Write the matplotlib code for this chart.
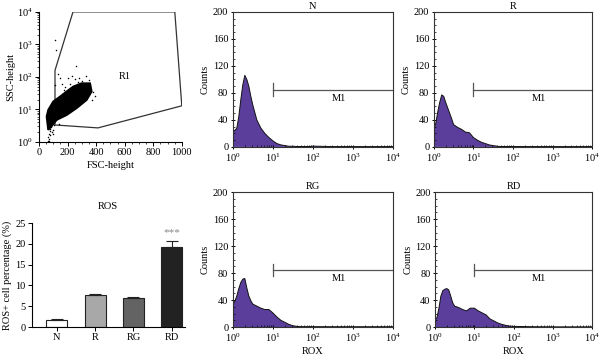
import numpy as np
import matplotlib
matplotlib.use("Agg")
import matplotlib.pyplot as plt
from matplotlib.ticker import MultipleLocator, LogLocator, NullFormatter

plt.rcParams['font.family'] = ['Liberation Serif', 'DejaVu Serif']
plt.rcParams['mathtext.fontset'] = 'stix'
plt.rcParams['font.size'] = 7.5

# ---- scatter (FSC vs SSC) ----
gate_fsc = [112, 413, 1000, 951, 238, 112]
gate_ssc = [10**0.52, 10**0.43, 10**1.11, 10**4, 10**4, 10**2.2]

cloud_fsc = [65, 124, 194, 263, 333, 368, 357, 298, 240, 194, 147, 100, 65, 54]
cloud_ssc = [10**0.37, 10**0.68, 10**0.83, 10**1.04, 10**1.29, 10**1.55, 10**1.8,
             10**1.8, 10**1.7, 10**1.55, 10**1.39, 10**1.24, 10**0.98, 10**0.78]

sparse_fsc = [62, 66, 70, 74, 68, 80, 85, 90, 72, 78, 95, 105, 110, 120, 150, 130,
              160, 260, 330, 300, 280, 350, 340, 200, 230, 250, 380, 100, 140, 175,
              320, 60, 88, 58, 115, 210, 370, 290, 310, 270, 220, 180, 360, 345,
              390, 240, 160, 125, 75, 64, 82, 92]
sparse_ssc = [1.1, 1.4, 1.7, 2.1, 1.2, 2.5, 3.0, 2.0, 1.05, 1.6, 2.4, 3.2, 1400, 650,
              90, 120, 60, 220, 110, 75, 95, 80, 60, 95, 110, 85, 35, 1.8, 3.5, 40,
              28, 3.0, 4.2, 6.0, 55, 9.0, 20, 15, 45, 70, 62, 50, 48, 30,
              25, 14, 7.5, 5.0, 12, 8.0, 2.8, 4.5]

# ---- bar chart ----
groups = ['N', 'R', 'RG', 'RD']
ros_pct = [1.6, 7.6, 6.9, 19.3]
ros_err = [0.4, 0.4, 0.4, 1.4]
bar_colors = ['white', '#a8a8a8', '#636363', '#222222']

# ---- histograms (ROX, decades from 10^0) ----
decades = [0, 0.02, 0.05, 0.1, 0.15, 0.2, 0.25, 0.3, 0.35, 0.4, 0.45, 0.5, 0.6, 0.7,
           0.8, 0.9, 1.0, 1.1, 1.2, 1.3, 1.4, 1.5, 1.6, 1.7, 1.8, 1.9, 2.0, 2.5, 3.0, 4.0]
counts_N = [72, 25, 24, 28, 45, 70, 92, 106, 100, 90, 75, 62, 40, 28, 20, 14, 9, 5, 3,
            2, 1, 1, 0.6, 0.6, 0.6, 0.6, 1.2, 0.5, 0.5, 0.5]
counts_R = [140, 30, 35, 52, 66, 77, 75, 66, 58, 50, 42, 33, 29, 26, 22, 21, 14, 10, 7,
            5, 3, 2, 1, 0.6, 0.6, 0.6, 0.6, 0.5, 0.5, 0.5]
counts_RG = [135, 35, 38, 46, 57, 66, 71, 72, 58, 46, 39, 34, 31, 28, 26, 26, 21, 15, 10,
             7, 4, 2, 1, 0.6, 0.6, 0.6, 0.6, 0.5, 0.5, 0.5]
counts_RD = [36, 12, 14, 28, 46, 54, 56, 57, 55, 46, 36, 31, 29, 26, 24, 28, 28, 24, 21,
             18, 12, 9, 6, 4, 2.5, 1.5, 1, 0.5, 0.3, 0.3]
hist_titles = ['N', 'R', 'RG', 'RD']
hist_counts = [counts_N, counts_R, counts_RG, counts_RD]

fig = plt.figure(figsize=(6.0, 3.61), dpi=100)

# scatter panel
ax = fig.add_axes([0.065, 0.607, 0.238, 0.36])
ax.fill(gate_fsc, gate_ssc, facecolor='none', edgecolor='#333333', lw=0.9)
ax.fill(cloud_fsc, cloud_ssc, facecolor='black', edgecolor='black', lw=1.5)
ax.scatter(sparse_fsc, sparse_ssc, s=1.2, c='black', lw=0)
ax.set_yscale('log')
ax.set_xlim(0, 1000)
ax.set_ylim(1, 1e4)
ax.xaxis.set_major_locator(MultipleLocator(200))
ax.xaxis.set_minor_locator(MultipleLocator(50))
ax.yaxis.set_minor_locator(LogLocator(subs=np.arange(2, 10)))
ax.yaxis.set_minor_formatter(NullFormatter())
for s in ['top', 'right']:
    ax.spines[s].set_visible(False)
ax.tick_params(which='major', length=3, width=0.7, pad=1.5)
ax.tick_params(which='minor', length=1.5, width=0.5)
ax.text(603, 100, 'R1', ha='center', va='center')
ax.set_xlabel('FSC-height', labelpad=3)
ax.set_ylabel('SSC-height', labelpad=1)

# bar panel
bx = fig.add_axes([0.053, 0.094, 0.255, 0.288])
xs = np.arange(len(groups))
bx.bar(xs, ros_pct, width=0.55, color=bar_colors, edgecolor='#222222', lw=0.8)
bx.errorbar(xs, ros_pct, yerr=[np.zeros(4), ros_err], fmt='none', ecolor='#222222',
            elinewidth=0.8, capsize=4, capthick=0.8)
bx.text(xs[3], 21.6, '***', ha='center', va='bottom', color='#888888', fontsize=8)
bx.set_xlim(-0.65, 3.34)
bx.set_ylim(0, 25)
bx.set_xticks(xs)
bx.set_xticklabels(groups)
bx.yaxis.set_major_locator(MultipleLocator(5))
for s in ['top', 'right']:
    bx.spines[s].set_visible(False)
bx.tick_params(length=3, width=0.7, pad=1.5)
bx.set_ylabel('ROS+ cell percentage (%)', labelpad=2)
bx.set_title('ROS', pad=10, fontsize=7.5)

# histogram panels
hist_rects = [[0.388, 0.593, 0.267, 0.374], [0.723, 0.593, 0.264, 0.374],
              [0.388, 0.094, 0.267, 0.374], [0.725, 0.094, 0.262, 0.374]]
for i, (rect, title, cnt) in enumerate(zip(hist_rects, hist_titles, hist_counts)):
    hx = fig.add_axes(rect)
    xv = 10 ** np.array(decades)
    hx.fill_between(xv[1:], 0, cnt[1:], facecolor='#5b3e9c', edgecolor='none')
    hx.plot(xv[1:], cnt[1:], color='#111111', lw=0.7)
    hx.vlines(xv[0] * 1.01, 0, cnt[0], color='#111111', lw=1.3)
    hx.set_xscale('log')
    hx.set_xlim(1, 1e4)
    hx.set_ylim(0, 200)
    hx.plot([10, 1e4], [85, 85], color='#555555', lw=0.9, clip_on=False)
    hx.plot([10, 10], [76, 94], color='#555555', lw=0.9)
    hx.text(10**2.65, 72, 'M1', ha='center', va='center')
    hx.yaxis.set_major_locator(MultipleLocator(40))
    hx.yaxis.set_minor_locator(MultipleLocator(10))
    hx.xaxis.set_minor_locator(LogLocator(subs=np.arange(2, 10)))
    hx.xaxis.set_minor_formatter(NullFormatter())
    for s in hx.spines.values():
        s.set_linewidth(0.8)
        s.set_color('#333333')
    hx.tick_params(which='major', direction='inout', length=3.5, width=0.7, pad=1.5)
    hx.tick_params(which='minor', direction='in', length=1.5, width=0.5)
    hx.set_title(title, pad=2, fontsize=7.5)
    hx.set_ylabel('Counts', labelpad=2)
    if i >= 2:
        hx.set_xlabel('ROX', labelpad=2)

fig.savefig('out.png', dpi=100)
